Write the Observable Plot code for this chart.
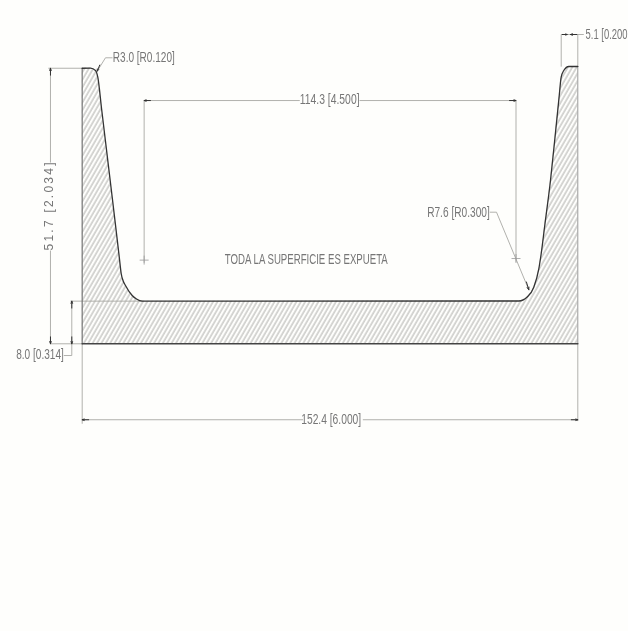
<!DOCTYPE html>
<html>
<head>
<meta charset="utf-8">
<script src="https://cdn.jsdelivr.net/npm/d3@7"></script>
<script src="https://cdn.jsdelivr.net/npm/@observablehq/plot@0.6"></script>
<style>
html,body{margin:0;padding:0;background:#fefefc;overflow:hidden}
svg{display:block;background:#fefefc;filter:blur(0.5px)}
</style>
</head>
<body>
<script>
// Section profile, millimetres (the drawing's two axes are not to the same scale)
const profileX = [0,2.55,4.09,4.80,5.98,7.16,9.23,10.68,11.45,11.99,12.55,13.31,15.38,16.7,18.45,134.25,136.84,138.87,140.41,141.14,142.2,144.0,145.6,146.6,147.29,148.09,149.63,152.4];
const profileY = [51.7,51.74,51.28,50.02,44,38,27.5,20,16,13.19,11.88,10.94,9.06,8.4,8.0,8.03,8.78,10.62,14.07,16.89,22,30.64,40,46,50.02,51.28,52.03,52.03];
const inner = profileX.map((x,i)=>({x,y:profileY[i]}));
const outerLeft = [{x:0,y:0},{x:0,y:51.7}];
const outerRight = [{x:152.4,y:52.03},{x:152.4,y:0}];
const outerBottom = [{x:0,y:0},{x:152.4,y:0}];

// Dimension and leader lines [x1,y1,x2,y2], mm
const dimLines = [
  [-9.75,51.7,-9.75,34.0],[-9.75,17.5,-9.75,0],
  [-10.4,51.7,0,51.7],[-9.75,0,0,0],
  [-3.6,8,18.85,8],[-3.2,8,-3.2,-2.2],[-5.66,-2.2,-3.2,-2.2],
  [0,0,0,-15],[152.4,0,152.4,-14.5],
  [0,-14.25,67.9,-14.25],[86.3,-14.25,152.4,-14.25],
  [19.05,45.64,66.9,45.64],[85.3,45.64,133.4,45.64],
  [19.05,45.64,19.05,15.2],[133.4,45.64,133.4,15.4],
  [9.32,53.66,7.16,53.66],[7.16,53.66,4.61,51.14],
  [125.34,24.69,127.4,24.69],[127.4,24.69,137.33,10.13],
  [147.3,52,147.3,58.03],[152.4,52,152.4,58.03],[147.3,58.03,154.24,58.03]
].map(([x1,y1,x2,y2])=>({x1,y1,x2,y2}));

// Arrow heads [from x, from y, tip x, tip y], mm
const arrowHeads = [
  [-9.75,50.4,-9.75,51.7],[-9.75,1.3,-9.75,0],
  [-3.2,6.7,-3.2,8],[-3.2,1.3,-3.2,0],
  [2,-14.25,0,-14.25],[150.4,-14.25,152.4,-14.25],
  [21,45.64,19.05,45.64],[131.4,45.64,133.4,45.64],
  [5.4,52.3,4.61,51.14],[136.6,11.6,137.33,10.13],
  [147.6,58.03,149.13,58.03],[152.1,58.03,150.15,58.03]
].map(([x1,y1,x2,y2])=>({x1,y1,x2,y2}));

const crossX = [19.05,133.4];
const crossY = [15.7,16.0];
const crosses = crossX.map((x,i)=>({x,y:crossY[i]}));

// Labels and the widths they occupy on the sheet
const labelText = ["R3.0 [R0.120]","114.3 [4.500]","TODA LA SUPERFICIE ES EXPUETA","R7.6 [R0.300]","8.0 [0.314]","152.4 [6.000]"];
const labelX = [18.94,76.1,68.91,115.7,-12.98,76.57];
const labelY = [53.66,45.84,15.82,24.69,-2.06,-14.11];
const labelWidth = [62,59.7,163,62.6,47.6,60];
const labels = labelText.map((t,i)=>({t,x:labelX[i],y:labelY[i],w:labelWidth[i]}));
const font = "'Liberation Sans',sans-serif";

const hatchDefs = () => {
  const defs = d3.create("svg:defs");
  const p = defs.append("pattern").attr("id","hatch").attr("patternUnits","userSpaceOnUse")
    .attr("width",3.8).attr("height",8).attr("patternTransform","rotate(30)");
  p.append("line").attr("x1",1).attr("x2",1).attr("y1",0).attr("y2",8)
    .attr("stroke","#a4a4a0").attr("stroke-width",0.9);
  return defs.node();
};

const chart = Plot.plot({
  width:628, height:631, margin:0,
  x:{domain:[-25.12,167.99],axis:null},
  y:{domain:[-53.98,64.41],axis:null},
  style:{background:"#fefefc"},
  marks:[
    hatchDefs,
    Plot.areaY(inner,{x:"x",y1:0,y2:"y",curve:"monotone-x",fill:"url(#hatch)"}),
    Plot.link(dimLines,{x1:"x1",y1:"y1",x2:"x2",y2:"y2",stroke:"#a8a8a4",strokeWidth:0.9}),
    Plot.line(outerLeft,{x:"x",y:"y",stroke:"#777",strokeWidth:1.2}),
    Plot.line(outerRight,{x:"x",y:"y",stroke:"#999",strokeWidth:1}),
    Plot.line(inner,{x:"x",y:"y",curve:"monotone-x",stroke:"#333",strokeWidth:1.3}),
    Plot.line(outerBottom,{x:"x",y:"y",stroke:"#444",strokeWidth:1.5}),
    Plot.arrow(arrowHeads,{x1:"x1",y1:"y1",x2:"x2",y2:"y2",stroke:"#333",strokeWidth:1,headLength:5,headAngle:40}),
    Plot.dot(crosses,{x:"x",y:"y",symbol:"plus",r:3,stroke:"#999",strokeWidth:0.8}),
    Plot.text(labels,{x:"x",y:"y",text:"t",fontFamily:font,fontSize:14.5,fill:"#767676",className:"lab"}),
    Plot.text(["51.7 [2.034]"],{x:[-10.3],y:[25.76],text:d=>d,rotate:-90,fontFamily:font,fontSize:12,fill:"#767676",className:"wide"}),
    Plot.text(["5.1 [0.200"],{x:[154.77],y:[58.03],text:d=>d,textAnchor:"start",fontFamily:font,fontSize:14.5,fill:"#767676",className:"cut"})
  ]
});
document.body.appendChild(chart);
// Liberation Sans Narrow is not installed: squeeze the text to the widths it takes on the sheet
const sel = d3.select(chart);
const fit = (s,w)=>s.attr("textLength",w).attr("lengthAdjust","spacingAndGlyphs");
sel.selectAll(".lab text").each(function(){
  const i = labelText.indexOf(this.textContent);
  fit(d3.select(this),labelWidth[i]);
});
fit(sel.selectAll(".cut text"),42);
sel.selectAll(".wide text").attr("textLength",88).attr("lengthAdjust","spacing");
</script>
</body>
</html>
